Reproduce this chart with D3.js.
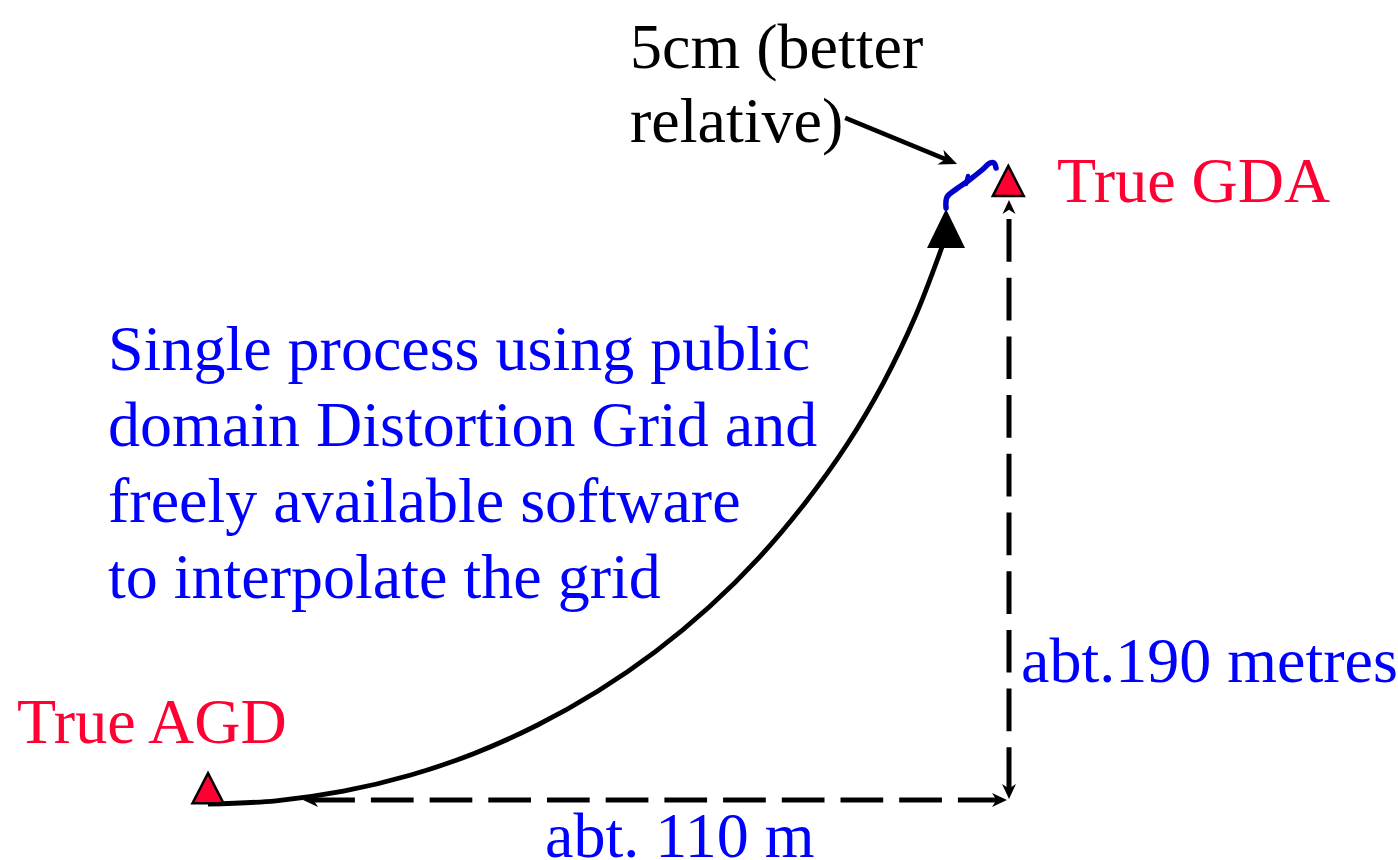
<!DOCTYPE html>
<html>
<head>
<meta charset="utf-8">
<script src="https://cdn.jsdelivr.net/npm/d3@7"></script>
<style>
  body { margin: 0; background: #fff; }
  svg text { font-family: "Liberation Serif", "Times New Roman", serif; font-size: 64px; }
</style>
</head>
<body>
<div id="diagram"></div>
<script>
// offsets in metres (east, north) between the two datums
var eastOffset = 110;
var northOffset = 190;

// stations, in metres relative to true AGD
var stationNames = ["True AGD", "True GDA", "Grid result"];
var stationEast  = [0, 109.9, 101.35];
var stationNorth = [-1, 191.3, 175.2];
var stationKind  = ["true", "true", "computed"];

// path of the grid transformation (metres)
var arcEast  = [0, 9.34, 18.59, 27.73, 36.64, 45.26, 53.56, 61.44, 68.86, 75.74, 82.0, 87.75, 92.77, 97.08, 100.8];
var arcNorth = [-1.27, -0.25, 2.79, 7.82, 14.82, 23.75, 34.52, 46.99, 61.18, 76.93, 94.08, 112.58, 132.2, 152.85, 175.1];

// 5cm spread of the relative solution (metres)
var spreadEast  = [101.35, 101.49, 102.59, 104.37, 106.29, 107.39, 107.94, 108.22];
var spreadNorth = [187.47, 190.95, 193.17, 196.02, 199.50, 201.72, 201.72, 200.13];
var nubEast  = [104.1, 104.37];
var nubNorth = [195.07, 197.6];

// pointer from the note to the spread
var pointerEast  = [87.5, 102.86];
var pointerNorth = [216.0, 201.4];

// texts
var noteLines = ["5cm (better", "relative)"];
var methodLines = ["Single process using public", "domain Distortion Grid and",
                   "freely available software", "to interpolate the grid"];
var eastLabel = "abt. 110 m";
var northLabel = "abt.190 metres";

var width = 1398, height = 860;
var red = "#ff0033", blue = "#0000ff";

var svg = d3.select("#diagram").append("svg")
    .attr("width", width)
    .attr("height", height);

var xScale = d3.scaleLinear().domain([0, eastOffset]).range([208, 1009]);
var yScale = d3.scaleLinear().domain([0, northOffset]).range([800, 200]);

// stealth arrow head, tip at (x,y), pointing along angle (degrees)
function arrowHead(x, y, angle, len, wid) {
  svg.append("path")
    .attr("d", `M0,0 L${-len},${-wid / 2} L${-len * 0.7},0 L${-len},${wid / 2} Z`)
    .attr("transform", `translate(${x},${y}) rotate(${angle})`)
    .attr("fill", "#000");
}

// dashed offset lines
var x0 = xScale(0), xE = xScale(eastOffset);
var y0 = yScale(0), yN = yScale(northOffset);

svg.append("line")
    .attr("x1", x0 + 102).attr("y1", y0)
    .attr("x2", xE - 9).attr("y2", y0)
    .attr("stroke", "#000")
    .attr("stroke-width", 5)
    .attr("stroke-dasharray", "42.7 16")
    .attr("stroke-dashoffset", 56.5);

svg.append("line")
    .attr("x1", xE).attr("y1", y0 - 8)
    .attr("x2", xE).attr("y2", yN + 7)
    .attr("stroke", "#000")
    .attr("stroke-width", 5)
    .attr("stroke-dasharray", "42.7 16")
    .attr("stroke-dashoffset", 56.7);

// the transformation arc
var arc = d3.line()
    .x(function(d) { return xScale(d[0]); })
    .y(function(d) { return yScale(d[1]); })
    .curve(d3.curveCatmullRom);

svg.append("path")
    .datum(d3.zip(arcEast, arcNorth))
    .attr("d", arc)
    .attr("fill", "none")
    .attr("stroke", "#000")
    .attr("stroke-width", 4.8);

arrowHead(xScale(13.05), y0, 180, 15, 14);
arrowHead(xE - 2, y0, 0, 15, 14);
arrowHead(xE, y0 - 1, 90, 15, 14);
arrowHead(xE, yN, -90, 14, 13);

// blue spread
svg.append("path")
    .datum(d3.zip(spreadEast, spreadNorth))
    .attr("d", arc)
    .attr("fill", "none")
    .attr("stroke", "#0000cc")
    .attr("stroke-width", 5.5)
    .attr("stroke-linecap", "round")
    .attr("stroke-linejoin", "round");

svg.append("path")
    .datum(d3.zip(nubEast, nubNorth))
    .attr("d", arc)
    .attr("fill", "none")
    .attr("stroke", "#0000cc")
    .attr("stroke-width", 4.5)
    .attr("stroke-linecap", "round");

// pointer from the note
var px1 = xScale(pointerEast[0]), py1 = yScale(pointerNorth[0]);
var px2 = xScale(pointerEast[1]), py2 = yScale(pointerNorth[1]);
var pAngle = Math.atan2(py2 - py1, px2 - px1);
svg.append("line")
    .attr("x1", px1).attr("y1", py1)
    .attr("x2", px2 - 10 * Math.cos(pAngle)).attr("y2", py2 - 10 * Math.sin(pAngle))
    .attr("stroke", "#000")
    .attr("stroke-width", 4.5);
arrowHead(px2, py2, pAngle * 180 / Math.PI, 18, 16);

// station triangles
stationNames.forEach(function(name, i) {
  var cx = xScale(stationEast[i]);
  var by = yScale(stationNorth[i]);
  var w = stationKind[i] == "true" ? 31 : 34;
  var h = stationKind[i] == "true" ? 30 : 35;
  svg.append("path")
    .attr("class", "station")
    .attr("d", `M${cx},${by - h} L${cx + w / 2},${by} L${cx - w / 2},${by} Z`)
    .attr("fill", stationKind[i] == "true" ? red : "#000")
    .attr("stroke", "#000")
    .attr("stroke-width", 2.5)
    .attr("stroke-linejoin", "miter");
});

// labels
svg.append("text").attr("x", 17).attr("y", 743).attr("fill", red).text(stationNames[0]);
svg.append("text").attr("x", 1057).attr("y", 202).attr("fill", red).text(stationNames[1]);

var note = svg.append("text").attr("fill", "#000");
noteLines.forEach(function(t, i) {
  note.append("tspan").attr("x", 630).attr("y", 68 + i * 74).text(t);
});

var method = svg.append("text").attr("fill", blue);
methodLines.forEach(function(t, i) {
  method.append("tspan").attr("x", 108).attr("y", 370 + i * 76).text(t);
});

svg.append("text").attr("x", 545).attr("y", 857).attr("fill", blue).text(eastLabel);
svg.append("text").attr("x", 1021).attr("y", 682).attr("fill", blue).text(northLabel);
</script>
</body>
</html>
